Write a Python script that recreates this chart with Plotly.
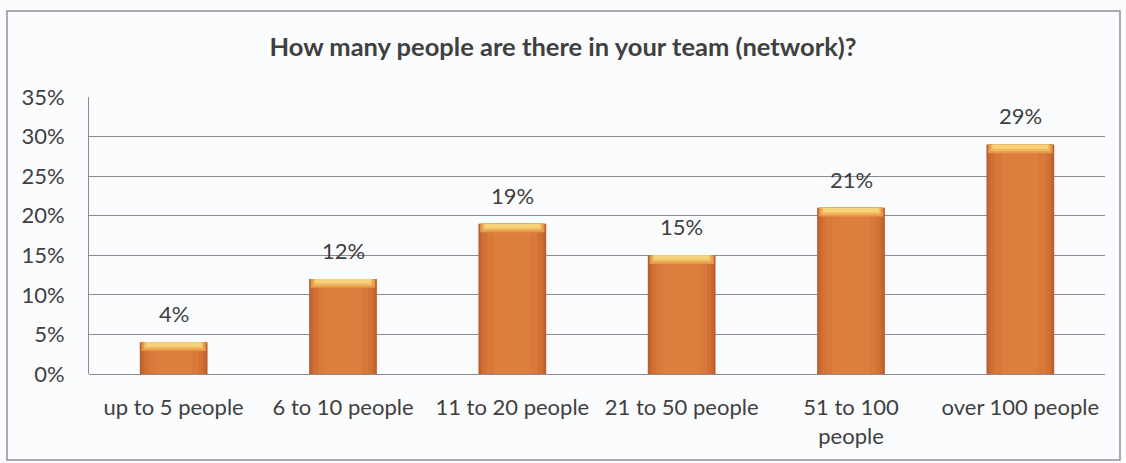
import plotly.graph_objects as go

categories = ["up to 5 people", "6 to 10 people", "11 to 20 people",
              "21 to 50 people", "51 to 100<br>people", "over 100 people"]
shares = [4, 12, 19, 15, 21, 29]
labels = ["4%", "12%", "19%", "15%", "21%", "29%"]

font_family = "Lato, 'Open Sans', sans-serif"
text_color = "#404040"
grid_color = "#8A8A92"

fig = go.Figure()

# bar body: stacked layers give a soft darker edge around each column
body_layers = [
    (0.40, "#BA5C2C"),
    (0.38, "#C96731"),
    (0.35, "#D27135"),
    (0.30, "#D8783A"),
    (0.22, "#DC7E3C"),
]
for w, c in body_layers:
    fig.add_trace(go.Bar(
        x=categories, y=shares, width=w,
        marker=dict(color=c, line=dict(width=0)),
        hoverinfo="skip",
    ))

# light bevel across the top of each bar
bevel_layers = [
    (1.1, 0.38, "#E59A4A"),
    (0.85, 0.35, "#EFB95E"),
    (0.55, 0.33, "#F6D27A"),
]
for h, w, c in bevel_layers:
    fig.add_trace(go.Bar(
        x=categories, y=[h] * len(shares), base=[v - h for v in shares],
        width=w, marker=dict(color=c, line=dict(width=0)),
        hoverinfo="skip",
    ))

# value labels above the bars
annotations = [
    dict(x=cat, y=val, text=lab, showarrow=False, xref="x", yref="y",
         yanchor="bottom", yshift=13,
         font=dict(family=font_family, size=22, color=text_color))
    for cat, val, lab in zip(categories, shares, labels)
]

fig.update_layout(
    width=1126, height=463,
    barmode="overlay",
    showlegend=False,
    paper_bgcolor="#FAFCFD",
    plot_bgcolor="#FAFCFD",
    margin=dict(l=89, r=21, t=97, b=89),
    title=dict(
        text="<b>How many people are there in your team (network)?</b>",
        x=0.5, xanchor="center", y=1 - 47 / 463, yanchor="middle",
        font=dict(family=font_family, size=25.5, color=text_color),
    ),
    font=dict(family=font_family, size=22, color=text_color),
    xaxis=dict(
        showgrid=False, zeroline=False, showline=False,
        ticks="", tickfont=dict(size=22, color=text_color),
        ticklabelstandoff=18,
    ),
    yaxis=dict(
        range=[0, 35], dtick=5, ticksuffix="%",
        showgrid=True, gridcolor=grid_color, gridwidth=1,
        zeroline=True, zerolinecolor=grid_color, zerolinewidth=1,
        showline=True, linecolor=grid_color, linewidth=1,
        ticks="", tickfont=dict(size=22, color=text_color),
        ticklabelstandoff=19,
    ),
    annotations=annotations,
    shapes=[dict(
        type="rect", xref="paper", yref="paper",
        x0=-82 / 1016, x1=1 + 15 / 1016,
        y0=-86 / 277, y1=1 + 86 / 277,
        line=dict(color="#8E9096", width=1.5),
    )],
)

fig.write_html("out.html")
